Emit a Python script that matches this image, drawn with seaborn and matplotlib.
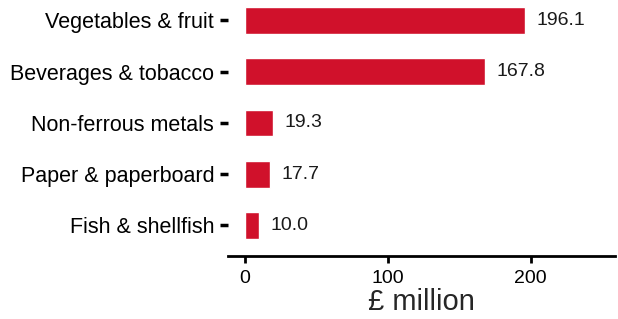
import matplotlib
matplotlib.use('Agg')
import matplotlib.pyplot as plt
import seaborn as sns
import pandas as pd

categories = ['Vegetables & fruit', 'Beverages & tobacco', 'Non-ferrous metals',
              'Paper & paperboard', 'Fish & shellfish']
values = [196.1, 167.8, 19.3, 17.7, 10.0]

df = pd.DataFrame({'Category': categories, 'Value': values})

sns.set_style('white')
plt.rcParams['font.family'] = ['Liberation Sans', 'DejaVu Sans']

fig = plt.figure(figsize=(6.18, 3.19), dpi=100)
ax = fig.add_axes([0.369, 0.197, 0.626, 0.803])

sns.barplot(data=df, x='Value', y='Category', color='#D0112B', saturation=1,
            width=0.52, ax=ax)

# value labels next to bars
for i, v in enumerate(values):
    ax.text(v + 8, i, f'{v:.1f}', va='center', ha='left', fontsize=14, color='#1a1a1a')

ax.set_xlim(-12, 259)
ax.set_ylim(4.6, -0.4)
ax.set_xticks([0, 100, 200])
ax.set_xlabel('£ million', fontsize=21, labelpad=1)
ax.set_ylabel('')

sns.despine(ax=ax, left=True)
ax.spines['bottom'].set_linewidth(2)
ax.spines['bottom'].set_color('black')
ax.tick_params(axis='x', bottom=True, length=5, width=2, labelsize=14,
               colors='black', pad=5)
ax.tick_params(axis='y', left=True, length=6, width=2.5, labelsize=15.5,
               colors='black', pad=4)

fig.savefig('out.png', dpi=100)
